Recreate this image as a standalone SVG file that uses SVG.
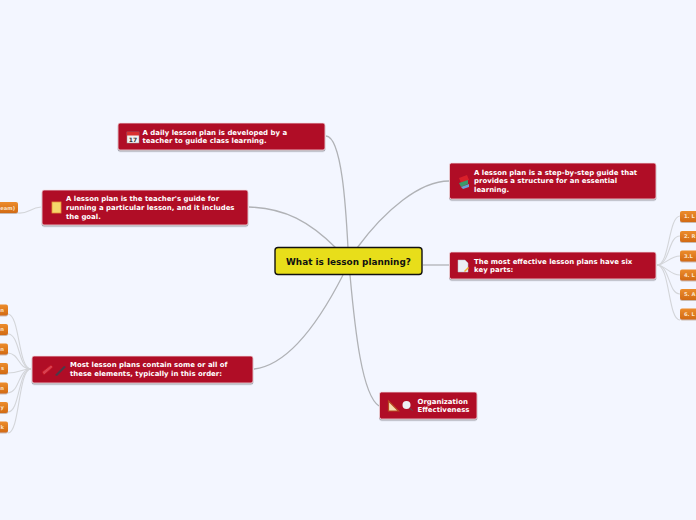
<svg xmlns="http://www.w3.org/2000/svg" width="696" height="520" viewBox="0 0 696 520">
<style>
text{font-family:"DejaVu Sans",sans-serif;font-weight:700}
.m{fill:#b00b28;stroke:#f3dfe2;stroke-width:.8;filter:url(#s)}
.t{fill:#fff;font-size:6.95px}
.o{fill:url(#og);filter:url(#s2)}
.ot{fill:#fbe3c8;font-size:5.2px}
.c1{fill:none;stroke:#b0b2b6;stroke-width:1.300}
.c2{fill:none;stroke:#d3d5d9;stroke-width:1.100}
</style>
<defs>
<linearGradient id="og" x1="0" y1="0" x2="0" y2="1"><stop offset="0" stop-color="#ec8c2c"/><stop offset="1" stop-color="#d26a14"/></linearGradient>
<filter id="s" x="-5%" y="-10%" width="110%" height="125%"><feDropShadow dx="0" dy="1.200" stdDeviation=".5" flood-color="#70707a" flood-opacity=".7"/></filter>
<filter id="s2" x="-10%" y="-10%" width="120%" height="130%"><feDropShadow dx="0" dy="1" stdDeviation=".4" flood-color="#a08060" flood-opacity=".5"/></filter>
</defs>
<rect width="696" height="520" fill="#f3f6ff"/>
<g id="connectors">
<path class="c1" d="M348 248C346 210 342 137 326 136"/>
<path class="c1" d="M336 248C310 222 285 208 249 207"/>
<path class="c1" d="M357 248C385 210 420 181 449 181"/>
<path class="c1" d="M423 265L449 265"/>
<path class="c1" d="M343 275C320 320 290 365 254 369"/>
<path class="c1" d="M350 275C355 330 362 395 379 406"/>
<path class="c2" d="M41 207C30 208 28 214 18 213"/>
<path class="c2" d="M657 265C670 265 668 217 680 216"/>
<path class="c2" d="M657 265C670 265 668 236 680 236"/>
<path class="c2" d="M657 265C665 265 670 256 680 256"/>
<path class="c2" d="M657 265C665 265 670 275 680 275"/>
<path class="c2" d="M657 265C670 265 668 294 680 294"/>
<path class="c2" d="M657 265C670 265 668 320 680 320"/>
<path class="c2" d="M31 369C18 369 20 315 8 314"/>
<path class="c2" d="M31 369C18 369 20 334 8 334"/>
<path class="c2" d="M31 369C18 369 20 354 8 353"/>
<path class="c2" d="M31 369C20 369 20 373 8 373"/>
<path class="c2" d="M31 369C18 369 20 392 8 393"/>
<path class="c2" d="M31 369C18 369 20 412 8 412"/>
<path class="c2" d="M31 369C18 369 20 433 8 433"/>
</g>
<g id="root">
<rect x="275" y="247.500" width="147" height="27" rx="3" fill="#e8de1a" stroke="#111" stroke-width="1.400"/>
<text x="348.500" y="264.500" font-size="8.900" text-anchor="middle" fill="#111">What is lesson planning?</text>
</g>
<g id="n-daily">
<rect class="m" x="118" y="123" width="207" height="27" rx="2"/>
<rect x="127" y="132" width="12" height="11" fill="#f2f2f2" stroke="#999" stroke-width=".5"/><rect x="127" y="132" width="12" height="3.500" fill="#d93030"/>
<text x="133" y="142" font-size="6" text-anchor="middle" fill="#333">17</text>
<text class="t" x="142.500" y="135">A daily lesson plan is developed by a</text>
<text class="t" x="142.500" y="143">teacher to guide class learning.</text>
</g>
<g id="n-guide">
<rect class="m" x="42" y="190" width="206" height="35" rx="2"/>
<rect x="52" y="202" width="9" height="11" fill="#f5d66b" stroke="#e8953a" stroke-width=".8"/>
<text class="t" x="66" y="201">A lesson plan is the teacher's guide for</text>
<text class="t" x="66" y="210">running a particular lesson, and it includes</text>
<text class="t" x="66" y="218.500">the goal.</text>
</g>
<g id="n-step">
<rect class="m" x="449.500" y="163" width="206.500" height="36" rx="2"/>
<path d="M459 178l8-3 2 5-8 3z" fill="#d8202a"/><path d="M459 183l9-3 0 4-7 3z" fill="#3a9a6a"/><path d="M461 187l8-3 0 3-6 2z" fill="#6aa0d8"/>
<text class="t" x="474" y="175">A lesson plan is a step-by-step guide that</text>
<text class="t" x="474" y="183">provides a structure for an essential</text>
<text class="t" x="474" y="192">learning.</text>
</g>
<g id="n-parts">
<rect class="m" x="449.500" y="252" width="206.500" height="27" rx="2"/>
<path d="M458 260h7l3 3v9h-10z" fill="#eceef4" stroke="#b8bcc8" stroke-width=".5"/><path d="M464 271l4-4 1 1-4 4z" fill="#f0b030"/>
<text class="t" x="474" y="264">The most effective lesson plans have six</text>
<text class="t" x="474" y="272">key parts:</text>
</g>
<g id="n-elements">
<rect class="m" x="32" y="356" width="221" height="27" rx="2"/>
<path d="M42 372l9-7 2 2-9 8z" fill="#d84050" stroke="#c01020" stroke-width=".8"/><path d="M55 375l9-9 2 1-9 9z" fill="#4a3a48"/>
<text class="t" x="70" y="367">Most lesson plans contain some or all of</text>
<text class="t" x="70" y="376">these elements, typically in this order:</text>
</g>
<g id="n-org">
<rect class="m" x="379.500" y="392" width="97.500" height="27" rx="2"/>
<path d="M388.500 401v10h10z" fill="#f5dcb0" stroke="#b84a20" stroke-width="1.200"/>
<circle cx="406.500" cy="405" r="4" fill="#eef0f4"/><path d="M409.500 408l3 2.500" stroke="#555" stroke-width="1"/>
<text class="t" x="417.500" y="404">Organization</text>
<text class="t" x="417.500" y="412">Effectiveness</text>
</g>
<g id="n-exam"><rect class="o" x="-20" y="202" width="38" height="11" rx="2"/><text class="ot" x="15" y="209.500" text-anchor="end">eam)</text></g>
<g id="n-r1"><rect class="o" x="680" y="211" width="30" height="11" rx="2"/><text class="ot" x="684" y="218">1. L</text></g>
<g id="n-r2"><rect class="o" x="680" y="231" width="30" height="11" rx="2"/><text class="ot" x="684" y="238">2. R</text></g>
<g id="n-r3"><rect class="o" x="680" y="250.500" width="30" height="11" rx="2"/><text class="ot" x="684" y="257.500">3.L</text></g>
<g id="n-r4"><rect class="o" x="680" y="269.500" width="30" height="11" rx="2"/><text class="ot" x="684" y="276.500">4. L</text></g>
<g id="n-r5"><rect class="o" x="680" y="289" width="30" height="11" rx="2"/><text class="ot" x="684" y="296">5. A</text></g>
<g id="n-r6"><rect class="o" x="680" y="308.500" width="30" height="11" rx="2"/><text class="ot" x="684" y="315.500">6. L</text></g>
<g id="n-l1"><rect class="o" x="-20" y="304.500" width="28" height="11" rx="2"/><text class="ot" x="4" y="311.500" text-anchor="end">n</text></g>
<g id="n-l2"><rect class="o" x="-20" y="324" width="28" height="11" rx="2"/><text class="ot" x="4" y="331" text-anchor="end">n</text></g>
<g id="n-l3"><rect class="o" x="-20" y="343.500" width="28" height="11" rx="2"/><text class="ot" x="4" y="350.500" text-anchor="end">n</text></g>
<g id="n-l4"><rect class="o" x="-20" y="363" width="28" height="11" rx="2"/><text class="ot" x="4" y="370" text-anchor="end">s</text></g>
<g id="n-l5"><rect class="o" x="-20" y="382.500" width="28" height="11" rx="2"/><text class="ot" x="4" y="389.500" text-anchor="end">n</text></g>
<g id="n-l6"><rect class="o" x="-20" y="402" width="28" height="11" rx="2"/><text class="ot" x="4" y="409" text-anchor="end">y</text></g>
<g id="n-l7"><rect class="o" x="-20" y="421.500" width="28" height="11" rx="2"/><text class="ot" x="4" y="428.500" text-anchor="end">k</text></g>
</svg>
